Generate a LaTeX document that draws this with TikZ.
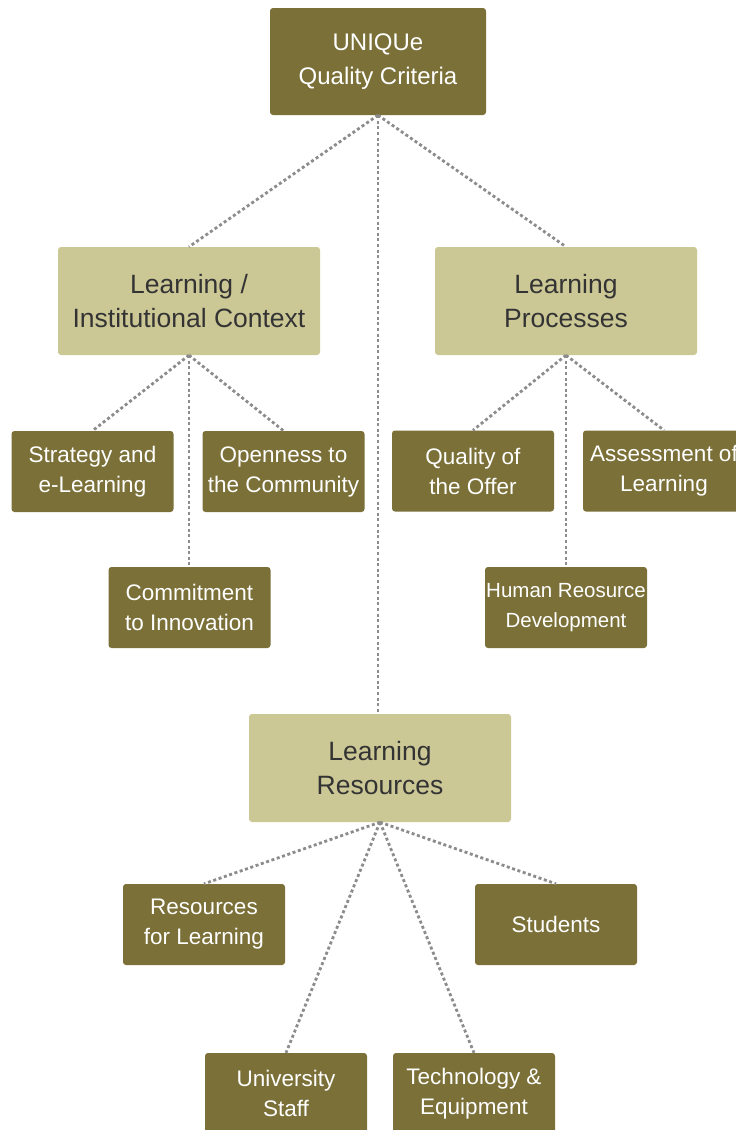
\documentclass[tikz,border=0pt]{standalone}
\usepackage{fontspec}
\setmainfont{Liberation Sans}
\definecolor{darkolive}{HTML}{7A7038}
\definecolor{lightolive}{HTML}{CCC896}
\definecolor{linegray}{HTML}{8C8C8C}
\definecolor{darktext}{HTML}{333333}
\begin{document}
\begin{tikzpicture}[x=1pt,y=-1pt,
  bigbox/.style={rectangle, rounded corners=3pt, inner sep=0pt, align=center},
  darkbig/.style={bigbox, fill=darkolive, text=white, minimum width=216pt, minimum height=107pt,
    font=\fontsize{24}{34}\selectfont},
  lightbig/.style={bigbox, fill=lightolive, text=darktext, minimum width=262pt, minimum height=108pt,
    font=\fontsize{26.5}{34}\selectfont},
  smallbox/.style={rectangle, rounded corners=3pt, inner sep=0pt, align=center,
    fill=darkolive, text=white, minimum width=162pt, minimum height=81pt,
    font=\fontsize{22.5}{30}\selectfont},
  tightfont/.style={font=\fontsize{20.5}{30}\selectfont},
  link/.style={draw=linegray, line width=2.8pt, dash pattern=on 3pt off 2.6pt}
]
\useasboundingbox (0,0) rectangle (736,1130);
\fill[white] (0,0) rectangle (736,1130);

\node[darkbig] (top) at (378,61.5) {UNIQUe\\Quality Criteria};
\node[lightbig] (lic) at (189,301) {Learning /\\Institutional Context};
\node[lightbig] (lp) at (566,301) {Learning\\Processes};
\node[lightbig] (lr) at (380,768) {Learning\\Resources};

\node[smallbox] (strat) at (92.5,471.5) {Strategy and\\e-Learning};
\node[smallbox] (open) at (283.5,471.5) {Openness to\\the Community};
\node[smallbox] (commit) at (189.5,607.5) {Commitment\\to Innovation};

\node[smallbox] (qual) at (473,471) {Quality of\\the Offer};
\node[smallbox] (assess) at (664,471) {Assessment of\\Learning};
\node[smallbox, tightfont] (hrd) at (566,607.5) {Human Reosurce\\Development};

\node[smallbox] (res) at (204,924.5) {Resources\\for Learning};
\node[smallbox] (stud) at (556,924.5) {Students};
\node[smallbox] (staff) at (286,1093.5) {University\\Staff};
\node[smallbox] (tech) at (474,1093.5) {Technology \&\\Equipment};

\path[link] (top.south) -- (lic.north);
\path[link] (top.south) -- (lp.north);
\path[link] (top.south) -- (top.south |- lr.north);

\path[link] (lic.south) -- (strat.north);
\path[link] (lic.south) -- (open.north);
\path[link] (lic.south) -- (lic.south |- commit.north);

\path[link] (lp.south) -- (qual.north);
\path[link] (lp.south) -- (assess.north);
\path[link] (lp.south) -- (lp.south |- hrd.north);

\path[link] (lr.south) -- (res.north);
\path[link] (lr.south) -- (stud.north);
\path[link] (lr.south) -- (staff.north);
\path[link] (lr.south) -- (tech.north);
\end{tikzpicture}
\end{document}
